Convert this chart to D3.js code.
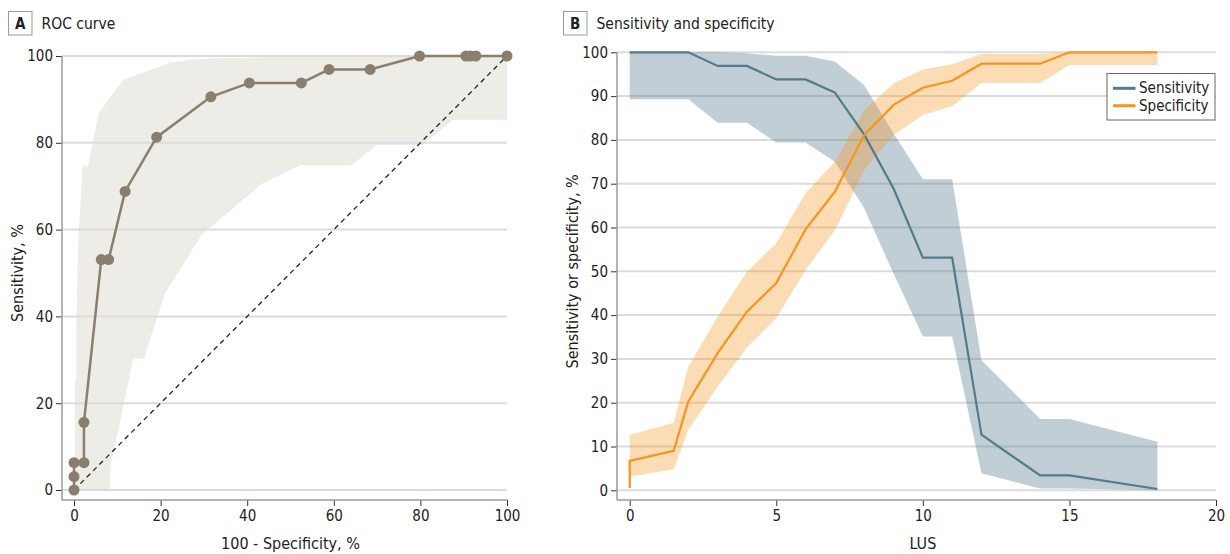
<!DOCTYPE html>
<html>
<head>
<meta charset="utf-8">
<script src="https://cdn.jsdelivr.net/npm/d3@7"></script>
<style>
  html, body { margin: 0; padding: 0; background: #fff; }
  svg { display: block; }
  text { font-family: "DejaVu Sans Condensed", "Liberation Sans", Arial, sans-serif; fill: #222; }
</style>
</head>
<body>
<svg id="chart" width="1230" height="554"></svg>
<script>
// ---------- Panel A data: ROC curve ----------
const rocFpr = [0, 0, 0, 2.3, 2.3, 6.3, 8.0, 11.8, 19.1, 31.6, 40.5, 52.5, 58.9, 68.4, 79.8, 90.5, 91.5, 92.8, 100];
const rocTpr = [0, 3.1, 6.3, 6.3, 15.6, 53.1, 53.1, 68.8, 81.3, 90.6, 93.8, 93.8, 96.9, 96.9, 100, 100, 100, 100, 100];
// confidence band boundaries
const rocHiX = [0.2, 0.2, 0.5, 0.5, 1.0, 2.0, 3.2, 5.8, 11.4, 22.2, 30, 50, 100];
const rocHiY = [0, 25, 25.5, 37.6, 57.5, 74.7, 74.7, 87, 94.5, 98.5, 99.4, 99.8, 100];
const rocLoX = [8.3, 8.3, 13.7, 16.2, 21, 29.5, 43.3, 52.2, 64.1, 69.9, 80.5, 87.5, 100];
const rocLoY = [0, 4.6, 30.3, 30.3, 45.3, 58.8, 70.5, 74.8, 74.8, 79.5, 79.5, 85.3, 85.3];
const ticksA = [0, 20, 40, 60, 80, 100];

// ---------- Panel B data: sensitivity & specificity vs LUS ----------
const lus = [0, 1.5, 2, 3, 4, 5, 6, 7, 8, 9, 10, 11, 12, 14, 15, 18];
const sens   = [100, 100, 100, 96.9, 96.9, 93.8, 93.8, 90.8, 81.2, 68.9, 53.1, 53.1, 12.7, 3.4, 3.4, 0.3];
const sensHi = [100, 100, 100, 100, 99.8, 99.2, 99.2, 97.9, 92.5, 81.5, 71, 71, 29.7, 16.3, 16.3, 11.1];
const sensLo = [89.3, 89.3, 89.3, 83.9, 83.9, 79.4, 79.4, 75.0, 64.4, 49.5, 35.1, 35.1, 3.9, 0.4, 0.4, 0];
const specX  = [0, 0, 1.5, 2, 3, 4, 5, 6, 7, 8, 9, 10, 11, 12, 14, 15, 18];
const spec   = [0.5, 6.7, 9.0, 20.3, 31.3, 40.8, 47.3, 59.6, 68.2, 81.1, 88.0, 91.9, 93.5, 97.4, 97.4, 100, 100];
const specBX  = [0, 1.5, 2, 3, 4, 5, 6, 7, 8, 9, 10, 11, 12, 14, 15, 18];
const specHi = [12.6, 15.4, 28.2, 39.6, 49.9, 56.4, 67.9, 75.0, 86.8, 92.9, 96.1, 97.3, 99.6, 99.6, 100, 100];
const specLo = [3.1, 4.8, 13.8, 23.7, 32.6, 39.3, 50.3, 59.4, 73.1, 81.1, 85.7, 87.7, 93.0, 93.0, 97.1, 97.1];
const ticksBX = [0, 5, 10, 15, 20];
const ticksBY = [0, 10, 20, 30, 40, 50, 60, 70, 80, 90, 100];
const legendLabels = ["Sensitivity", "Specificity"];

// ---------- styles ----------
const C = {
  roc: "#8a7e6f", rocBand: "#edece6", grid: "#dcdcdc", axis: "#9a9a9a",
  sens: "#557a8b", sensBand: "rgba(85,120,138,0.36)",
  spec: "#f7941d", specBand: "rgba(247,148,30,0.33)"
};
const FONT = '"DejaVu Sans Condensed", "Liberation Sans", Arial, sans-serif';

const svg = d3.select("#chart");

function panelLabel(x, letter, title) {
  svg.append("rect").attr("x", x + 0.5).attr("y", 11.5).attr("width", 23.5).attr("height", 23.5)
    .attr("fill", "#fff").attr("stroke", "#9a9a9a").attr("stroke-width", 1);
  svg.append("text").attr("x", x + 12.25).attr("y", 28.5).attr("text-anchor", "middle")
    .attr("font-size", 15).attr("font-weight", "bold").text(letter);
  svg.append("text").attr("x", x + 33.5).attr("y", 29).attr("font-size", 15.5).text(title);
}

function drawAxes(xs, ys, xTicks, yTicks, axisLeftX, axisY, xTitle, yTitle, yTitleX) {
  const xEnd = xs.range()[1];
  const yTop = ys.range()[1];
  // gridlines
  svg.append("g").selectAll("line").data(yTicks).join("line")
    .attr("x1", axisLeftX).attr("x2", xEnd)
    .attr("y1", d => ys(d)).attr("y2", d => ys(d))
    .attr("stroke", C.grid).attr("stroke-width", 2);
  // x axis
  const gx = svg.append("g").attr("transform", `translate(0,${axisY})`)
    .call(d3.axisBottom(xs).tickValues(xTicks).tickSize(6).tickPadding(4).tickFormat(d3.format("d")));
  gx.select(".domain").remove();
  gx.selectAll(".tick line").attr("stroke", "#333");
  gx.selectAll(".tick text").attr("font-size", 15).attr("fill", "#333").attr("font-family", FONT);
  svg.append("line").attr("x1", axisLeftX).attr("x2", xEnd).attr("y1", axisY).attr("y2", axisY)
    .attr("stroke", C.axis).attr("stroke-width", 1.5);
  // y axis
  const gy = svg.append("g").attr("transform", `translate(${axisLeftX},0)`)
    .call(d3.axisLeft(ys).tickValues(yTicks).tickSize(6).tickPadding(3).tickFormat(d3.format("d")));
  gy.select(".domain").remove();
  gy.selectAll(".tick line").attr("stroke", "#333");
  gy.selectAll(".tick text").attr("font-size", 15).attr("fill", "#333").attr("font-family", FONT);
  svg.append("line").attr("x1", axisLeftX).attr("x2", axisLeftX).attr("y1", axisY).attr("y2", yTop)
    .attr("stroke", C.axis).attr("stroke-width", 1.5);
  // titles
  svg.append("text").attr("x", (xs.range()[0] + xEnd) / 2).attr("y", 549)
    .attr("text-anchor", "middle").attr("font-size", 16).text(xTitle);
  const yMid = (ys.range()[0] + yTop) / 2;
  svg.append("text").attr("transform", `translate(${yTitleX},${yMid}) rotate(-90)`)
    .attr("text-anchor", "middle").attr("font-size", 16).text(yTitle);
}

// ================= Panel A =================
const xA = d3.scaleLinear().domain([0, 100]).range([74, 507]);
const yA = d3.scaleLinear().domain([0, 100]).range([490, 56]);

panelLabel(8, "A", "ROC curve");

// band polygon
const bandPts = rocHiX.map((x, i) => [x, rocHiY[i]])
  .concat(rocLoX.map((x, i) => [x, rocLoY[i]]).reverse());
svg.append("path")
  .attr("d", d3.line().x(d => xA(d[0])).y(d => yA(d[1]))(bandPts) + "Z")
  .attr("fill", C.rocBand);

drawAxes(xA, yA, ticksA, ticksA, 62, 500, "100 - Specificity, %", "Sensitivity, %", 23);

// reference diagonal
svg.append("path")
  .attr("d", d3.line().x(d => xA(d)).y(d => yA(d))([0, 100]))
  .attr("stroke", "#222").attr("stroke-width", 1.3).attr("stroke-dasharray", "5,4").attr("fill", "none");

const rocPts = rocFpr.map((x, i) => [x, rocTpr[i]]);
svg.append("path")
  .attr("d", d3.line().x(d => xA(d[0])).y(d => yA(d[1]))(rocPts))
  .attr("stroke", C.roc).attr("stroke-width", 2.5).attr("fill", "none");
svg.append("g").selectAll("circle").data(rocPts).join("circle")
  .attr("cx", d => xA(d[0])).attr("cy", d => yA(d[1])).attr("r", 5.5).attr("fill", C.roc);

// ================= Panel B =================
const xB = d3.scaleLinear().domain([0, 20]).range([629.7, 1216]);
const yB = d3.scaleLinear().domain([0, 100]).range([490.3, 52.3]);

panelLabel(563, "B", "Sensitivity and specificity");

drawAxes(xB, yB, ticksBX, ticksBY, 617, 500, "LUS", "Sensitivity or specificity, %", 578);

const sensData = lus.map((x, i) => ({ x, v: sens[i], lo: sensLo[i], hi: sensHi[i] }));
const specBand = specBX.map((x, i) => ({ x, lo: specLo[i], hi: specHi[i] }));
const specLine = specX.map((x, i) => ({ x, v: spec[i] }));

const area = d3.area().x(d => xB(d.x)).y0(d => yB(d.lo)).y1(d => yB(d.hi));
const line = d3.line().x(d => xB(d.x)).y(d => yB(d.v));

svg.append("path").attr("d", area(sensData)).attr("fill", C.sensBand);
svg.append("path").attr("d", area(specBand)).attr("fill", C.specBand);
svg.append("path").attr("d", line(sensData)).attr("stroke", C.sens).attr("stroke-width", 2.2).attr("fill", "none");
svg.append("path").attr("d", line(specLine)).attr("stroke", C.spec).attr("stroke-width", 2.2).attr("fill", "none");

// legend
const lg = svg.append("g").attr("transform", "translate(1107,73.5)");
lg.append("rect").attr("width", 108).attr("height", 46.5).attr("fill", "#fff").attr("stroke", "#666").attr("stroke-width", 1);
[C.sens, C.spec].forEach((col, i) => {
  const y = 14.8 + i * 17.4;
  lg.append("line").attr("x1", 6).attr("x2", 28.5).attr("y1", y).attr("y2", y).attr("stroke", col).attr("stroke-width", 3);
  lg.append("text").attr("x", 32).attr("y", y + 5).attr("font-size", 15).text(legendLabels[i]);
});
</script>
</body>
</html>
